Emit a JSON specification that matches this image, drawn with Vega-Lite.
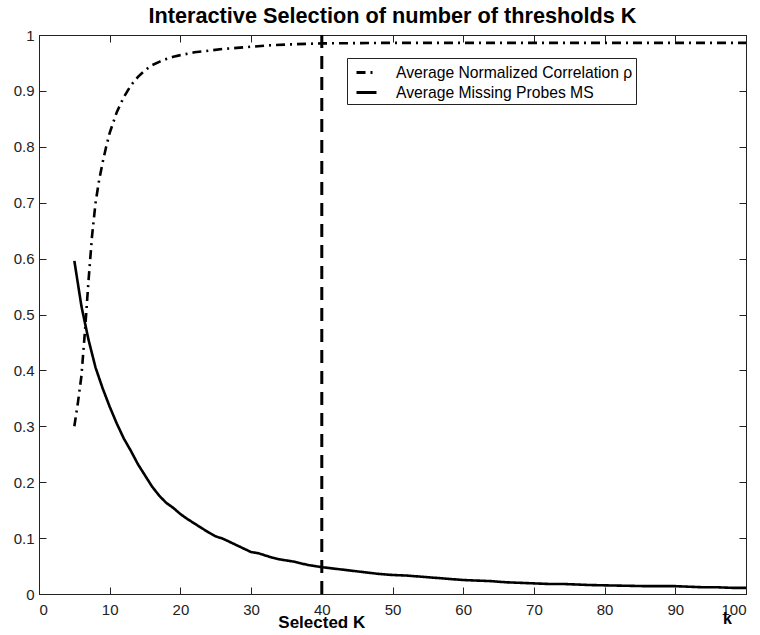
{
  "$schema": "https://vega.github.io/schema/vega-lite/v6.json",
  "autosize": "none",
  "width": 707,
  "height": 559,
  "padding": {"left": 39, "top": 35, "right": 14, "bottom": 41},
  "background": "white",
  "title": {"text": "Interactive Selection of number of thresholds K", "font": "Liberation Sans", "fontSize": 21.7, "fontWeight": "bold", "color": "black", "anchor": "middle", "baseline": "alphabetic", "offset": -17},
  "config": {
    "view": {"stroke": "#222", "strokeWidth": 1},
    "axis": {"grid": false, "tickSize": -7, "tickColor": "#222", "domainColor": "#222", "labelFont": "Liberation Sans", "labelFontSize": 15, "labelColor": "#222", "titleFont": "Liberation Sans"}
  },
  "datasets": {
    "curves": [
      {"k": 5, "value": 0.300, "series": "Average Normalized Correlation ρ"},
      {"k": 5.5, "value": 0.342, "series": "Average Normalized Correlation ρ"},
      {"k": 6, "value": 0.390, "series": "Average Normalized Correlation ρ"},
      {"k": 6.5, "value": 0.470, "series": "Average Normalized Correlation ρ"},
      {"k": 7, "value": 0.560, "series": "Average Normalized Correlation ρ"},
      {"k": 7.5, "value": 0.640, "series": "Average Normalized Correlation ρ"},
      {"k": 8, "value": 0.700, "series": "Average Normalized Correlation ρ"},
      {"k": 8.5, "value": 0.740, "series": "Average Normalized Correlation ρ"},
      {"k": 9, "value": 0.772, "series": "Average Normalized Correlation ρ"},
      {"k": 9.5, "value": 0.800, "series": "Average Normalized Correlation ρ"},
      {"k": 10, "value": 0.825, "series": "Average Normalized Correlation ρ"},
      {"k": 11, "value": 0.862, "series": "Average Normalized Correlation ρ"},
      {"k": 12, "value": 0.889, "series": "Average Normalized Correlation ρ"},
      {"k": 13, "value": 0.910, "series": "Average Normalized Correlation ρ"},
      {"k": 14, "value": 0.925, "series": "Average Normalized Correlation ρ"},
      {"k": 15, "value": 0.937, "series": "Average Normalized Correlation ρ"},
      {"k": 16, "value": 0.946, "series": "Average Normalized Correlation ρ"},
      {"k": 17, "value": 0.952, "series": "Average Normalized Correlation ρ"},
      {"k": 18, "value": 0.957, "series": "Average Normalized Correlation ρ"},
      {"k": 19, "value": 0.961, "series": "Average Normalized Correlation ρ"},
      {"k": 20, "value": 0.964, "series": "Average Normalized Correlation ρ"},
      {"k": 22, "value": 0.969, "series": "Average Normalized Correlation ρ"},
      {"k": 24, "value": 0.972, "series": "Average Normalized Correlation ρ"},
      {"k": 26, "value": 0.975, "series": "Average Normalized Correlation ρ"},
      {"k": 28, "value": 0.977, "series": "Average Normalized Correlation ρ"},
      {"k": 30, "value": 0.979, "series": "Average Normalized Correlation ρ"},
      {"k": 32, "value": 0.981, "series": "Average Normalized Correlation ρ"},
      {"k": 35, "value": 0.983, "series": "Average Normalized Correlation ρ"},
      {"k": 40, "value": 0.985, "series": "Average Normalized Correlation ρ"},
      {"k": 50, "value": 0.986, "series": "Average Normalized Correlation ρ"},
      {"k": 60, "value": 0.986, "series": "Average Normalized Correlation ρ"},
      {"k": 70, "value": 0.986, "series": "Average Normalized Correlation ρ"},
      {"k": 80, "value": 0.986, "series": "Average Normalized Correlation ρ"},
      {"k": 90, "value": 0.986, "series": "Average Normalized Correlation ρ"},
      {"k": 100, "value": 0.986, "series": "Average Normalized Correlation ρ"},
      {"k": 5, "value": 0.596, "series": "Average Missing Probes MS"},
      {"k": 6, "value": 0.515, "series": "Average Missing Probes MS"},
      {"k": 7, "value": 0.455, "series": "Average Missing Probes MS"},
      {"k": 8, "value": 0.405, "series": "Average Missing Probes MS"},
      {"k": 9, "value": 0.368, "series": "Average Missing Probes MS"},
      {"k": 10, "value": 0.335, "series": "Average Missing Probes MS"},
      {"k": 11, "value": 0.305, "series": "Average Missing Probes MS"},
      {"k": 12, "value": 0.278, "series": "Average Missing Probes MS"},
      {"k": 13, "value": 0.256, "series": "Average Missing Probes MS"},
      {"k": 14, "value": 0.232, "series": "Average Missing Probes MS"},
      {"k": 15, "value": 0.212, "series": "Average Missing Probes MS"},
      {"k": 16, "value": 0.192, "series": "Average Missing Probes MS"},
      {"k": 17, "value": 0.176, "series": "Average Missing Probes MS"},
      {"k": 18, "value": 0.163, "series": "Average Missing Probes MS"},
      {"k": 19, "value": 0.154, "series": "Average Missing Probes MS"},
      {"k": 20, "value": 0.143, "series": "Average Missing Probes MS"},
      {"k": 21, "value": 0.134, "series": "Average Missing Probes MS"},
      {"k": 22, "value": 0.126, "series": "Average Missing Probes MS"},
      {"k": 23, "value": 0.118, "series": "Average Missing Probes MS"},
      {"k": 24, "value": 0.110, "series": "Average Missing Probes MS"},
      {"k": 25, "value": 0.103, "series": "Average Missing Probes MS"},
      {"k": 26, "value": 0.099, "series": "Average Missing Probes MS"},
      {"k": 27, "value": 0.093, "series": "Average Missing Probes MS"},
      {"k": 28, "value": 0.087, "series": "Average Missing Probes MS"},
      {"k": 29, "value": 0.081, "series": "Average Missing Probes MS"},
      {"k": 30, "value": 0.075, "series": "Average Missing Probes MS"},
      {"k": 31, "value": 0.073, "series": "Average Missing Probes MS"},
      {"k": 32, "value": 0.069, "series": "Average Missing Probes MS"},
      {"k": 33, "value": 0.065, "series": "Average Missing Probes MS"},
      {"k": 34, "value": 0.062, "series": "Average Missing Probes MS"},
      {"k": 35, "value": 0.060, "series": "Average Missing Probes MS"},
      {"k": 36, "value": 0.058, "series": "Average Missing Probes MS"},
      {"k": 37, "value": 0.055, "series": "Average Missing Probes MS"},
      {"k": 38, "value": 0.052, "series": "Average Missing Probes MS"},
      {"k": 39, "value": 0.050, "series": "Average Missing Probes MS"},
      {"k": 40, "value": 0.048, "series": "Average Missing Probes MS"},
      {"k": 42, "value": 0.045, "series": "Average Missing Probes MS"},
      {"k": 44, "value": 0.042, "series": "Average Missing Probes MS"},
      {"k": 46, "value": 0.039, "series": "Average Missing Probes MS"},
      {"k": 48, "value": 0.036, "series": "Average Missing Probes MS"},
      {"k": 50, "value": 0.034, "series": "Average Missing Probes MS"},
      {"k": 52, "value": 0.033, "series": "Average Missing Probes MS"},
      {"k": 54, "value": 0.031, "series": "Average Missing Probes MS"},
      {"k": 56, "value": 0.029, "series": "Average Missing Probes MS"},
      {"k": 58, "value": 0.027, "series": "Average Missing Probes MS"},
      {"k": 60, "value": 0.025, "series": "Average Missing Probes MS"},
      {"k": 62, "value": 0.024, "series": "Average Missing Probes MS"},
      {"k": 64, "value": 0.023, "series": "Average Missing Probes MS"},
      {"k": 66, "value": 0.021, "series": "Average Missing Probes MS"},
      {"k": 68, "value": 0.020, "series": "Average Missing Probes MS"},
      {"k": 70, "value": 0.019, "series": "Average Missing Probes MS"},
      {"k": 72, "value": 0.018, "series": "Average Missing Probes MS"},
      {"k": 74, "value": 0.018, "series": "Average Missing Probes MS"},
      {"k": 76, "value": 0.017, "series": "Average Missing Probes MS"},
      {"k": 78, "value": 0.016, "series": "Average Missing Probes MS"},
      {"k": 80, "value": 0.0155, "series": "Average Missing Probes MS"},
      {"k": 82, "value": 0.015, "series": "Average Missing Probes MS"},
      {"k": 84, "value": 0.0145, "series": "Average Missing Probes MS"},
      {"k": 86, "value": 0.014, "series": "Average Missing Probes MS"},
      {"k": 88, "value": 0.014, "series": "Average Missing Probes MS"},
      {"k": 90, "value": 0.014, "series": "Average Missing Probes MS"},
      {"k": 92, "value": 0.013, "series": "Average Missing Probes MS"},
      {"k": 94, "value": 0.012, "series": "Average Missing Probes MS"},
      {"k": 96, "value": 0.012, "series": "Average Missing Probes MS"},
      {"k": 98, "value": 0.011, "series": "Average Missing Probes MS"},
      {"k": 100, "value": 0.011, "series": "Average Missing Probes MS"}
    ],
    "selected": [{"k": 40, "label": "Selected K"}]
  },
  "resolve": {"axis": {"x": "independent", "y": "independent"}},
  "layer": [
    {
      "data": {"name": "curves"},
      "mark": {"type": "line", "color": "black", "strokeWidth": 2.6},
      "encoding": {
        "x": {"field": "k", "type": "quantitative", "scale": {"domain": [0, 100], "nice": false, "zero": false},
          "axis": {"orient": "bottom", "values": [0,10,20,30,40,50,60,70,80,90,100], "labelPadding": 15, "title": "k", "titleFontSize": 16, "titleFontWeight": "bold", "titleColor": "black", "titleX": 688, "titleY": 29, "titleAlign": "center", "titleBaseline": "alphabetic", "titleAnchor": null}},
        "y": {"field": "value", "type": "quantitative", "scale": {"domain": [0, 1], "nice": false},
          "axis": {"orient": "left", "values": [0,0.1,0.2,0.3,0.4,0.5,0.6,0.7,0.8,0.9,1], "format": ".1~f", "labelPadding": 12, "title": null}},
        "strokeDash": {"field": "series", "type": "nominal",
          "scale": {"domain": ["Average Normalized Correlation ρ", "Average Missing Probes MS"], "range": [[9, 5, 2, 5], [1, 0]]},
          "legend": {"orient": "none", "legendX": 308, "legendY": 23, "title": null, "symbolType": "stroke", "symbolStrokeWidth": 3, "symbolStrokeColor": "black", "symbolSize": 400, "labelFontSize": 15.7, "labelFont": "Liberation Sans", "labelColor": "black", "strokeColor": "#222", "fillColor": "white", "padding": 3, "symbolOffset": 5, "labelOffset": 18, "rowPadding": -1, "labelLimit": 400}}
      }
    },
    {
      "data": {"name": "selected"},
      "mark": {"type": "rule", "color": "black", "strokeWidth": 3, "strokeDash": [13, 8]},
      "encoding": {
        "x": {"field": "k", "type": "quantitative",
          "axis": {"orient": "top", "values": [0,10,20,30,40,50,60,70,80,90,100], "labels": false, "title": null}},
        "y": {"datum": 0, "type": "quantitative",
          "axis": {"orient": "right", "values": [0,0.1,0.2,0.3,0.4,0.5,0.6,0.7,0.8,0.9,1], "labels": false, "title": null}},
        "y2": {"datum": 1}
      }
    },
    {
      "data": {"name": "selected"},
      "mark": {"type": "text", "font": "Liberation Sans", "fontSize": 17, "fontWeight": "bold", "color": "black", "align": "center", "baseline": "alphabetic", "dy": 34},
      "encoding": {
        "x": {"field": "k", "type": "quantitative", "axis": null},
        "y": {"datum": 0, "type": "quantitative", "axis": null},
        "text": {"field": "label"}
      }
    }
  ]
}
